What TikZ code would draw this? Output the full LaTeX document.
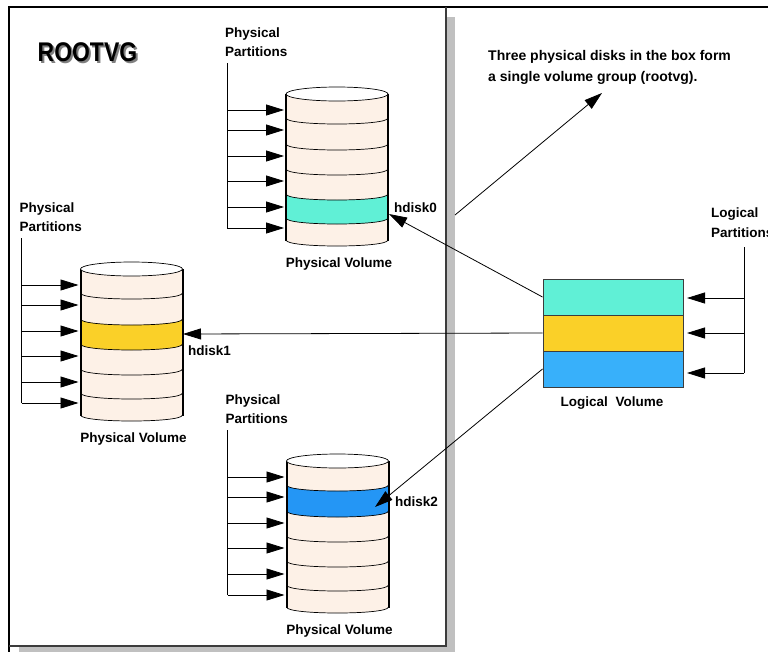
\documentclass[tikz,border=0pt]{standalone}
\usepackage{fontspec}
\setmainfont{Liberation Sans}
\usetikzlibrary{arrows.meta}
\definecolor{peach}{RGB}{253,241,231}
\definecolor{tealband}{RGB}{96,240,214}
\definecolor{yellowband}{RGB}{250,208,40}
\definecolor{lvblue}{RGB}{56,176,250}
\definecolor{pvblue}{RGB}{36,150,245}
\definecolor{shadowgrey}{RGB}{192,192,192}
\definecolor{borderdark}{RGB}{60,60,60}
\tikzset{
  conn/.style={line width=0.8pt,-{Triangle[length=18pt,width=11pt]}},
  feed/.style={line width=0.8pt},
  lbl/.style={inner sep=0pt,anchor=west,align=left,font=\fontsize{13.5}{19}\selectfont\bfseries},
  clbl/.style={inner sep=0pt,font=\fontsize{13.5}{19}\selectfont\bfseries},
  lvband/.style={draw=borderdark,line width=1pt,inner sep=0pt,minimum width=140pt,minimum height=36pt},
  sepline/.style={line width=0.7pt},
  sideline/.style={line width=2pt},
}
% #1 name, #2 cx, #3 ty, #4 band top, #5 band bottom, #6 band colour
\newcommand\pvcylinder[6]{%
  \begin{scope}[shift={(#2,#3)}]
    \fill[peach] (-51,0) -- (-51,146) .. controls (-51,154) and (51,154) .. (51,146) -- (51,0) -- cycle;
    \fill[#6] (-51,#4) .. controls (-51,#4+8) and (51,#4+8) .. (51,#4) -- (51,#5) .. controls (51,#5+8) and (-51,#5+8) .. (-51,#5) -- cycle;
    \foreach \e in {24,50,75,100,124}{
      \draw[sepline] (-51,\e) .. controls (-51,\e+8) and (51,\e+8) .. (51,\e);
    }
    \draw[sepline] (-51,146) .. controls (-51,154) and (51,154) .. (51,146);
    \draw[sideline] (-51,0) -- (-51,147);
    \draw[sideline] (51,0) -- (51,147);
    \draw[sepline,fill=white] (0,0) ellipse [x radius=51pt, y radius=7pt];
    \coordinate (#1-top) at (-110,-31);
    \foreach \i/\r in {1/16,2/36,3/62,4/87,5/113,6/134}{
      \coordinate (#1-v\i) at (-110,\r);
      \coordinate (#1-in\i) at (-53,\r);
    }
    \draw[feed] (#1-top) -- (#1-v6);
    \foreach \i in {1,...,6}{
      \draw[conn] (#1-v\i) -- (#1-in\i);
    }
    \node[lbl] (#1-pp) at (-112,-51.5) {Physical\\Partitions};
    \node[clbl] (#1-pv) at (2,170) {Physical Volume};
  \end{scope}
}
\begin{document}
\begin{tikzpicture}[x=1pt,y=-1pt]
\useasboundingbox (0,0) rectangle (768,651);
% frame with shadow
\fill[shadowgrey] (19,17) rectangle (455,656);
\fill[white] (9,7) rectangle (446,646);
\draw[line width=1.5pt] (9,652) -- (9,7) -- (769,7);
\draw[borderdark,line width=1.8pt] (446,7) -- (446,646) -- (9,646);
% title
\node[inner sep=0pt,anchor=west,text=gray,font=\fontsize{27}{30}\selectfont\bfseries] (titleshadow) at (39.5,54.5) {\scalebox{0.85}[1]{ROOTVG}};
\node[inner sep=0pt,anchor=west,font=\fontsize{27}{30}\selectfont\bfseries] (title) at (37.5,52.5) {\scalebox{0.85}[1]{ROOTVG}};
% cylinders
\pvcylinder{pvA}{337}{94}{100}{124}{tealband}
\pvcylinder{pvB}{131.5}{269}{50}{75}{yellowband}
\pvcylinder{pvC}{337.5}{461}{24}{50}{pvblue}
\node[lbl] (hd0) at (394,208) {hdisk0};
\node[lbl] (hd1) at (188,351) {hdisk1};
\node[lbl] (hd2) at (395,502) {hdisk2};
\coordinate (hd0tip) at (389,214);
\coordinate (hd1tip) at (183,334);
\coordinate (hd2tip) at (375,507);
% logical volume
\node[lvband,fill=tealband] (lvA) at (613,297) {};
\node[lvband,fill=yellowband] (lvB) at (613,333) {};
\node[lvband,fill=lvblue] (lvC) at (613,369) {};
\node[clbl] (lvlabel) at (612,403) {Logical\hspace{4pt} Volume};
% logical partitions
\node[lbl,font=\fontsize{13.5}{20}\selectfont\bfseries] (lp) at (711,223) {Logical\\Partitions};
\coordinate (lpTop) at (744,247);
\coordinate (lpv1) at (744,298);
\coordinate (lpv2) at (744,333);
\coordinate (lpv3) at (744,373);
\coordinate (lpt1) at (687,298);
\coordinate (lpt2) at (687,333);
\coordinate (lpt3) at (687,373);
\draw[feed] (lpTop) -- (lpv3);
\draw[conn] (lpv1) -- (lpt1);
\draw[conn] (lpv2) -- (lpt2);
\draw[conn] (lpv3) -- (lpt3);
% connectors from LV to disks
\draw[conn] (lvA.west) -- (hd0tip);
\draw[conn] (lvB.west) -- (hd1tip);
\draw[conn] (lvC.west) -- (hd2tip);
% note
\node[lbl,font=\fontsize{14}{21}\selectfont\bfseries] (note) at (488,67.5) {Three physical disks in the box form\\a single volume group (rootvg).};
\coordinate (noteStart) at (455,215);
\coordinate (noteTip) at (602,93);
\draw[conn] (noteStart) -- (noteTip);
\end{tikzpicture}
\end{document}
